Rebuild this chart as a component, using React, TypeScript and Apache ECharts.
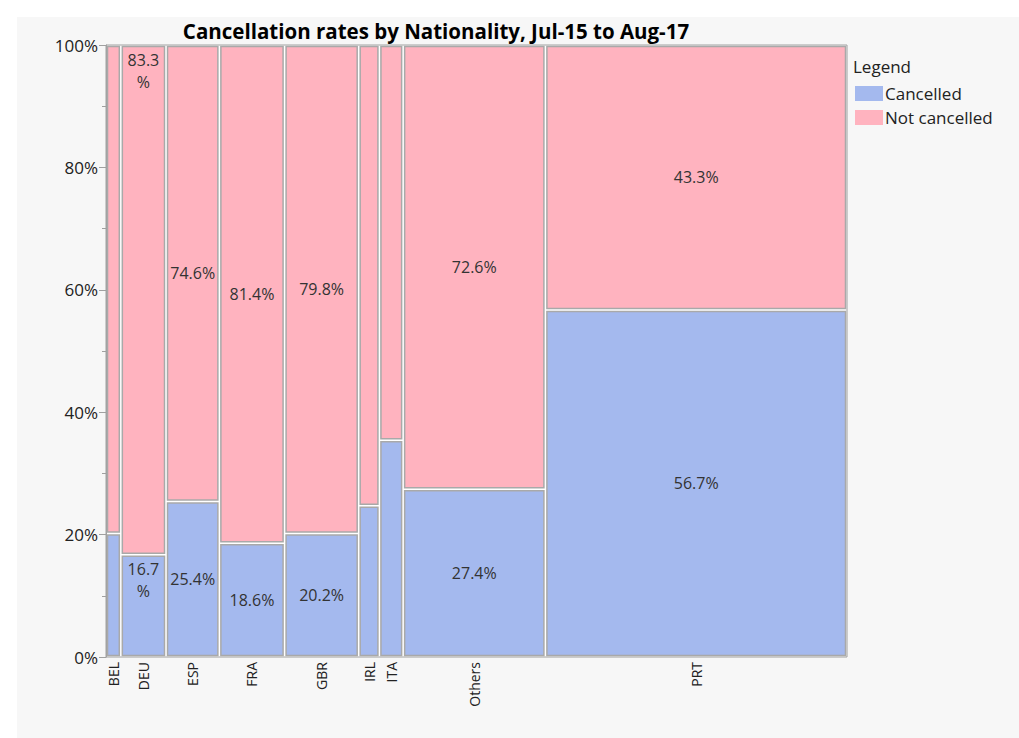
import React, { useEffect, useRef } from "react";
import * as echarts from "echarts";

const countries = ["BEL", "DEU", "ESP", "FRA", "GBR", "IRL", "ITA", "Others", "PRT"];
// share of bookings (column width, % of total)
const shares = [2.0, 6.1, 7.2, 8.8, 10.0, 2.8, 3.2, 19.2, 40.7];
const cancelledPct = [20.2, 16.7, 25.4, 18.6, 20.2, 24.7, 35.4, 27.4, 56.7];
const notCancelledPct = [79.8, 83.3, 74.6, 81.4, 79.8, 75.3, 64.6, 72.6, 43.3];
const yTicks = [0, 20, 40, 60, 80, 100];

const BLUE = "#A4B9EE";
const PINK = "#FFB3BF";
const FONT = "'Open Sans', 'Noto Sans', sans-serif";

export default function App() {
  const ref = useRef<HTMLDivElement>(null);
  useEffect(() => {
    if (!ref.current) return;
    const chart = echarts.init(ref.current, undefined, { renderer: "svg" });

    let acc = 0;
    const cancData: any[] = [];
    const notData: any[] = [];
    countries.forEach((c, i) => {
      const x0 = acc;
      const x1 = acc + shares[i];
      acc = x1;
      cancData.push([x0, x1, 0, cancelledPct[i], i]);
      notData.push([x0, x1, cancelledPct[i], 100, i]);
    });

    const makeRender = (isCancelled: boolean) => (params: any, api: any) => {
      const x0 = api.value(0);
      const x1 = api.value(1);
      const y0 = api.value(2);
      const y1 = api.value(3);
      const idx = api.value(4);
      const p0 = api.coord([x0, y0]);
      const p1 = api.coord([x1, y1]);
      const inset = 1.5;
      const left = p0[0] + inset;
      const right = p1[0] - inset;
      const top = p1[1] + inset;
      const bottom = p0[1] - inset;
      const w = right - left;
      const h = bottom - top;
      const children: any[] = [
        {
          type: "rect",
          shape: { x: left, y: top, width: w, height: h },
          style: { fill: isCancelled ? BLUE : PINK, stroke: "#A9A9A9", lineWidth: 1.5 },
        },
      ];
      const val = isCancelled ? cancelledPct[idx] : notCancelledPct[idx];
      if (w > 25) {
        const narrow = w < 47;
        children.push({
          type: "text",
          x: (left + right) / 2,
          y: narrow ? top + 2 : (top + bottom) / 2,
          style: {
            text: narrow ? val.toFixed(1) + "\n%" : val.toFixed(1) + "%",
            fill: "#333333",
            fontSize: 16,
            fontFamily: FONT,
            align: "center",
            verticalAlign: narrow ? "top" : "middle",
            lineHeight: 22,
          },
        });
      }
      if (isCancelled) {
        children.push({
          type: "text",
          x: (p0[0] + p1[0]) / 2,
          y: p0[1] + 5,
          rotation: Math.PI / 2,
          style: {
            text: countries[idx],
            fill: "#222222",
            fontSize: 14,
            fontFamily: FONT,
            align: "right",
            verticalAlign: "middle",
          },
        });
      }
      return { type: "group", children };
    };

    chart.setOption({
      animation: false,
      backgroundColor: "#F7F7F7",
      title: {
        text: "Cancellation rates by Nationality, Jul-15 to Aug-17",
        left: 414,
        top: -2,
        textAlign: "center",
        textStyle: { fontSize: 20.5, fontWeight: "bold", color: "#000", fontFamily: FONT },
      },
      legend: {
        orient: "vertical",
        left: 838,
        top: 68,
        itemWidth: 28,
        itemHeight: 15,
        itemGap: 7,
        padding: 0,
        icon: "rect",
        textStyle: { fontSize: 17, color: "#222", fontFamily: FONT, padding: [0, 0, 0, -3] },
        data: ["Cancelled", "Not cancelled"],
      },
      graphic: [
        {
          type: "text",
          left: 836,
          top: 41,
          style: { text: "Legend", fontSize: 17, fill: "#222", fontFamily: FONT },
        },
      ],
      grid: {
        left: 89,
        top: 28,
        right: 172,
        bottom: 81,
        show: true,
        backgroundColor: "#FFFFFF",
        borderColor: "#A0A0A0",
        borderWidth: 1,
      },
      xAxis: {
        type: "value",
        min: 0,
        max: 100,
        show: false,
      },
      yAxis: {
        type: "value",
        min: yTicks[0],
        max: yTicks[yTicks.length - 1],
        interval: 20,
        axisLine: { show: true, lineStyle: { color: "#A0A0A0" } },
        axisTick: { show: true, length: 7, lineStyle: { color: "#A0A0A0" } },
        minorTick: { show: true, splitNumber: 2, length: 4, lineStyle: { color: "#A0A0A0" } },
        splitLine: { show: false },
        axisLabel: {
          formatter: "{value}%",
          fontSize: 17,
          color: "#222",
          fontFamily: FONT,
          margin: 8,
        },
      },
      series: [
        {
          name: "Cancelled",
          type: "custom",
          renderItem: makeRender(true),
          itemStyle: { color: BLUE },
          encode: { x: [0, 1], y: [2, 3] },
          data: cancData,
        },
        {
          name: "Not cancelled",
          type: "custom",
          renderItem: makeRender(false),
          itemStyle: { color: PINK },
          encode: { x: [0, 1], y: [2, 3] },
          data: notData,
        },
      ],
    });
    return () => chart.dispose();
  }, []);

  return (
    <div
      ref={ref}
      style={{ position: "absolute", left: 17, top: 17, width: 1002, height: 721 }}
    />
  );
}
